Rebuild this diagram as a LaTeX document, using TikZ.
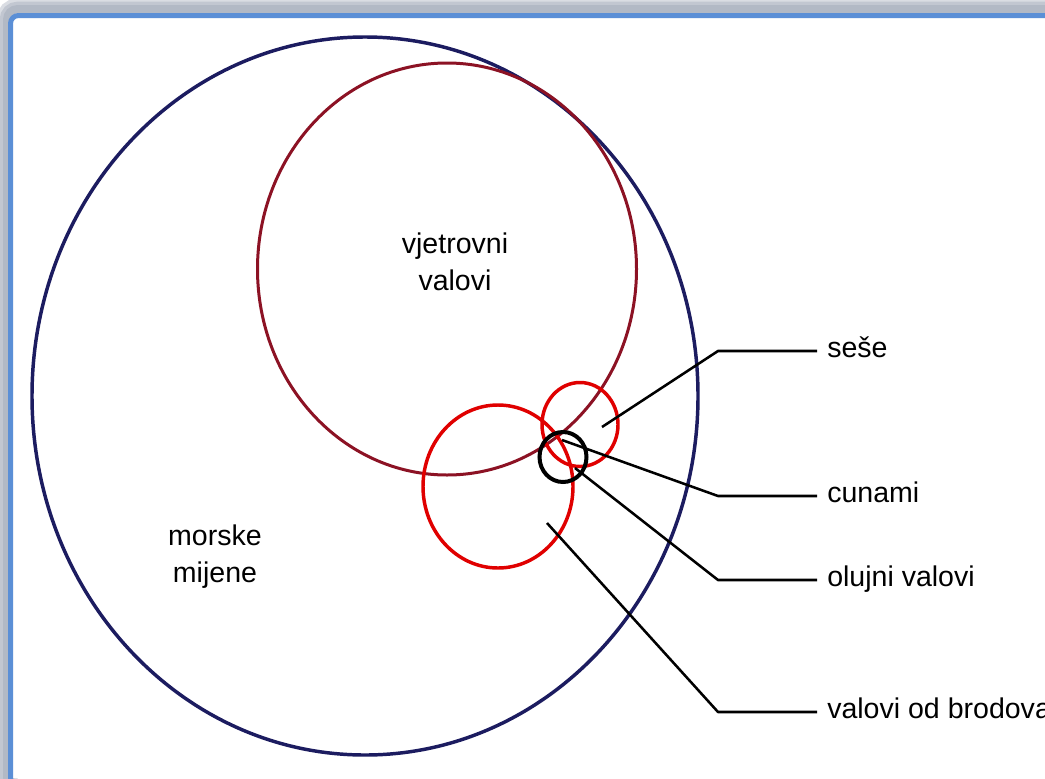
\documentclass[tikz,border=0pt]{standalone}
\usepackage{fontspec}
\setmainfont{Liberation Sans}
\usepackage{xcolor}
\usetikzlibrary{calc,positioning}
\definecolor{tidenavy}{RGB}{28,28,96}
\definecolor{windred}{RGB}{140,18,36}
\definecolor{framegray}{RGB}{150,160,176}
\definecolor{frameblue}{RGB}{91,143,214}

\begin{document}
\begin{tikzpicture}[x=0.75pt, y=-0.75pt,
  wave/.style={line width=2.6pt},
  lead/.style={line width=1.9pt, line join=round},
  zone/.style={align=center, font=\fontsize{21.4}{27.8}\selectfont},
  lbl/.style={anchor=west, inner xsep=7.5pt, font=\fontsize{21.4}{27.8}\selectfont,
              text height=1em, text depth=0.05em}
]
\useasboundingbox (0,0) rectangle (1045,778);
\clip (0,0) rectangle (1045,778);
\fill[white] (0,0) rectangle (1045,778);

% frame with soft shadow
\foreach \w in {16pt,11pt,6pt} {
  \draw[framegray, opacity=0.35, line width=\w, rounded corners=8] (7,900) -- (7,9) -- (1100,9);
}
\fill[white] (13,18) rectangle (1045,778);
\draw[frameblue, line width=3.75pt, rounded corners=6] (10.5,900) -- (10.5,15.5) -- (1100,15.5);

% wave families
\draw[wave, tidenavy] (365,396) ellipse [x radius=333, y radius=359];
\draw[wave, windred, line width=2.25pt] (447,269) ellipse [x radius=189.5, y radius=206];
\draw[wave, red!88!black] (498,486.5) ellipse [x radius=75, y radius=81.5];
\draw[wave, red!88!black] (580,424.5) ellipse [x radius=38, y radius=42];
\draw[wave, black, line width=3pt] (563,457) ellipse [x radius=23.5, y radius=25];

\node[zone] (wind) at (455,262) {vjetrovni\\valovi};
\node[zone] (tide) at (215,557) {morske\\mijene};

% labels on the right
\node[lbl] (sese) at (817,351) {seše};
\node[lbl] (cunami) at (817,496) {cunami};
\node[lbl] (olujni) at (817,580) {olujni valovi};
\node[lbl] (brodovi) at (817,712) {valovi od brodova};

\coordinate (seseIn) at (602,427);
\coordinate (cunamiIn) at (562,440);
\coordinate (olujniIn) at (575,468);
\coordinate (brodIn) at (547,523);

\draw[lead] (seseIn) -- ($(sese.west)+(-99,0)$) -- (sese.west);
\draw[lead] (cunamiIn) -- ($(cunami.west)+(-99,0)$) -- (cunami.west);
\draw[lead] (olujniIn) -- ($(olujni.west)+(-99,0)$) -- (olujni.west);
\draw[lead] (brodIn) -- ($(brodovi.west)+(-99,0)$) -- (brodovi.west);
\end{tikzpicture}
\end{document}
